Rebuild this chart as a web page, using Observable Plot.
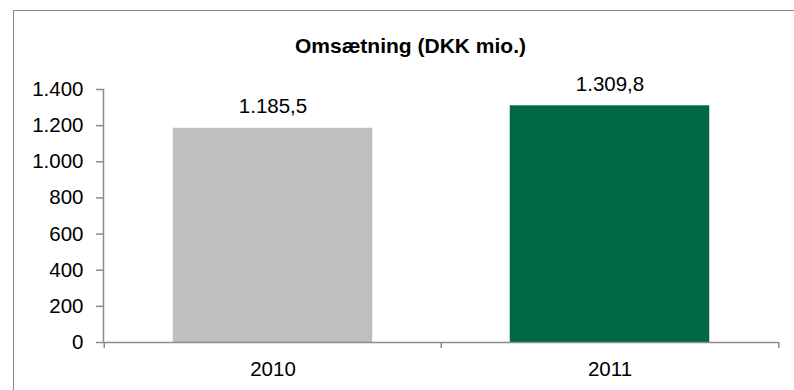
<!DOCTYPE html>
<html>
<head>
<meta charset="utf-8">
<script src="https://cdn.jsdelivr.net/npm/d3@7"></script>
<script src="https://cdn.jsdelivr.net/npm/@observablehq/plot@0.6"></script>
<style>
  html, body { margin: 0; padding: 0; background: #fff; overflow: hidden; }
  #wrap { position: relative; width: 794px; height: 390px; overflow: hidden; }
  #box { position: absolute; left: 13px; top: 10px; width: 830px; height: 430px;
         border: 1.5px solid #888; box-sizing: border-box; pointer-events: none; }
</style>
</head>
<body>
<div id="wrap"><div id="box"></div></div>
<script>
// Revenue per year, DKK million
const years = ["2010", "2011"];
const revenue = [1185.5, 1309.8];
const barColors = ["#bfbfbf", "#006845"];
const yTicks = [0, 200, 400, 600, 800, 1000, 1200, 1400];
const title = "Omsætning (DKK mio.)";

const data = years.map((year, i) => ({year, value: revenue[i], color: barColors[i]}));

// Danish number formatting: "." for thousands, "," for decimals
const da = d3.formatLocale({decimal: ",", thousands: ".", grouping: [3], currency: ["", " kr."]});
const fmtTick = da.format(",.0f");
const fmtValue = da.format(",.1f");

const W = 794, H = 390;
const mL = 103, mR = 16, mT = 89, mB = 48;
const bandW = (W - mL - mR) / years.length;
const barW = 200;
const inset = (bandW - barW) / 2;
const axisColor = "#8c8c8c";
const font = "'Liberation Sans', Arial, sans-serif";

const chart = Plot.plot({
  width: W,
  height: H,
  marginLeft: mL,
  marginRight: mR,
  marginTop: mT,
  marginBottom: mB,
  style: {fontFamily: font, fontSize: "20.5px", color: "#000", background: "transparent"},
  x: {type: "band", domain: years, padding: 0, label: null},
  y: {domain: [0, 1400], ticks: yTicks, label: null},
  marks: [
    Plot.rectY(data, {x: "year", y: "value", fill: "color", insetLeft: inset, insetRight: inset}),
    // axis lines
    Plot.frame({anchor: "left", stroke: axisColor, strokeWidth: 1.5}),
    Plot.ruleY([0], {stroke: axisColor, strokeWidth: 1.5}),
    // category boundary ticks below the baseline
    Plot.ruleX(years, {x: d => d, dx: -bandW / 2, insetTop: H - mT - mB, insetBottom: -6, stroke: axisColor, strokeWidth: 1.5}),
    Plot.ruleX(years.slice(-1), {x: d => d, dx: bandW / 2, insetTop: H - mT - mB, insetBottom: -6, stroke: axisColor, strokeWidth: 1.5}),
    Plot.axisY({ticks: yTicks, tickFormat: fmtTick, tickSize: 7, tickPadding: 13, stroke: axisColor, strokeWidth: 1.5, strokeOpacity: 1, fill: "#000"}),
    Plot.axisX({tickSize: 0, tickPadding: 19, fill: "#000"}),
    // value labels above the bars
    Plot.text(data, {x: "year", y: "value", text: d => fmtValue(d.value), dy: -15, lineAnchor: "bottom", fill: "#000"}),
    // chart title
    Plot.text([title], {frameAnchor: "top", dx: 410 - (mL + (W - mR)) / 2, dy: -37, lineAnchor: "bottom",
      fontWeight: "bold", fontSize: 21, fill: "#000"})
  ]
});

document.getElementById("wrap").prepend(chart);
</script>
</body>
</html>
